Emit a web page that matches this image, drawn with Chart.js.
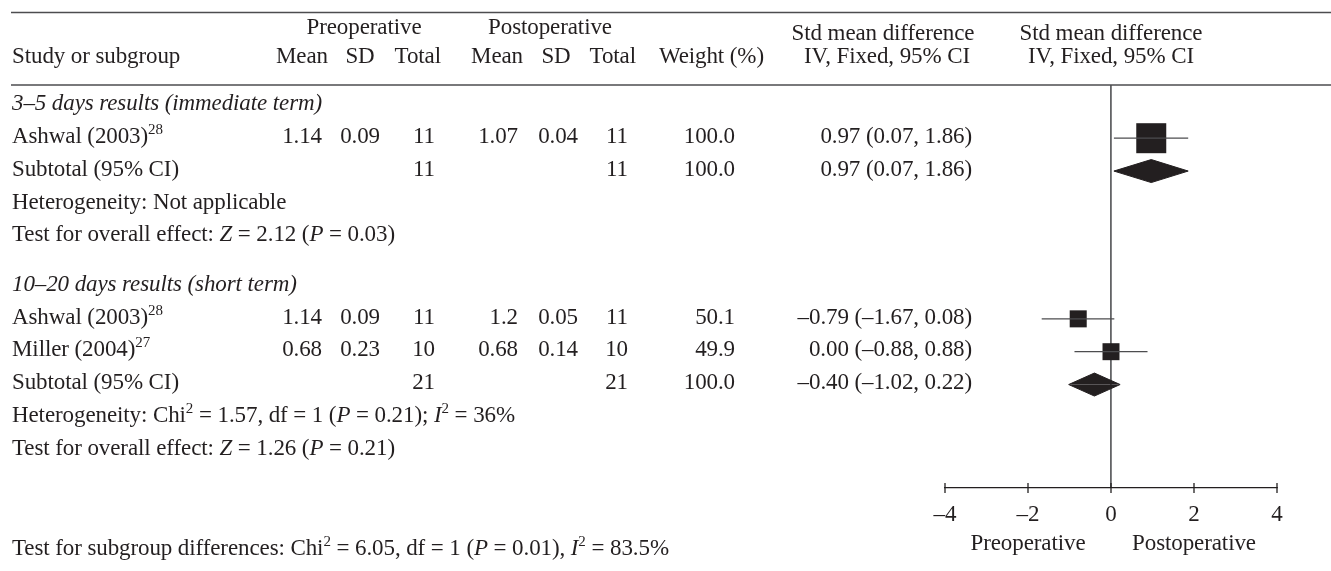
<!DOCTYPE html>
<html>
<head>
<meta charset="utf-8">
<script src="https://cdn.jsdelivr.net/npm/chart.js@4.4.1/dist/chart.umd.min.js"></script>
<style>
  html, body { margin: 0; padding: 0; background: #fff; overflow: hidden; }
  #wrap { position: relative; width: 1331px; height: 571px; }
  #plot { position: absolute; left: 0; top: 0; }
  .t { position: absolute; white-space: nowrap; font: 23px "Liberation Serif", serif; letter-spacing: -0.1px;
       color: #231f20; line-height: 23px; }
  .t sup { font-size: 15px; line-height: 0; vertical-align: baseline; position: relative; top: -9px; letter-spacing: 0; }
  .c { transform: translateX(-50%); }
  .r { transform: translateX(-100%); }
</style>
</head>
<body>
<div id="wrap"><canvas id="plot" width="1331" height="571"></canvas></div>
<script>
// subgroups and studies
const subgroupNames = ['3–5 days results (immediate term)', '10–20 days results (short term)'];
const studyNames = ['Ashwal (2003)', 'Ashwal (2003)', 'Miller (2004)'];
const studyRefs = ['28', '28', '27'];
const studyGroup = [0, 1, 1];

const preMean = [1.14, 1.14, 0.68];
const preSD = [0.09, 0.09, 0.23];
const preTotal = [11, 11, 10];
const postMean = [1.07, 1.2, 0.68];
const postSD = [0.04, 0.05, 0.14];
const postTotal = [11, 11, 10];
const weight = [100.0, 50.1, 49.9];
const smd = [0.97, -0.79, 0.00];
const ciLow = [0.07, -1.67, -0.88];
const ciHigh = [1.86, 0.08, 0.88];

// subgroup totals
const subPreTotal = [11, 21];
const subPostTotal = [11, 21];
const subWeight = [100.0, 100.0];
const subSmd = [0.97, -0.40];
const subLow = [0.07, -1.02];
const subHigh = [1.86, 0.22];
const hetChi2 = [null, 1.57];
const hetDf = [null, 1];
const hetP = [null, 0.21];
const hetI2 = [null, 36];
const overallZ = [2.12, 1.26];
const overallP = [0.03, 0.21];

// test for subgroup differences
const diffChi2 = 6.05, diffDf = 1, diffP = 0.01, diffI2 = 83.5;

const xTicks = [-4, -2, 0, 2, 4];
const sideLabels = ['Preoperative', 'Postoperative'];

const ink = '#231f20';
const fmt = (v, d) => v.toFixed(d).replace(/-/g, '–');

// row layout from the structure
const rows = [];
let r = 0;
subgroupNames.forEach((name, g) => {
  rows.push({ kind: 'heading', g, y: r++ });
  studyNames.forEach((s, i) => { if (studyGroup[i] === g) rows.push({ kind: 'study', i, y: r++ }); });
  rows.push({ kind: 'subtotal', g, y: r++ });
  rows.push({ kind: 'het', g, y: r++ });
  rows.push({ kind: 'test', g, y: r++ });
  r += 0.5;
});

const datasets = [];
const studyRows = rows.filter(o => o.kind === 'study');
studyRows.forEach(o => {
  datasets.push({
    type: 'line',
    data: [{ x: ciLow[o.i], y: o.y }, { x: ciHigh[o.i], y: o.y }],
    borderColor: '#4d4d4f', borderWidth: 1.3, pointRadius: 0, fill: false
  });
});
datasets.push({
  type: 'scatter',
  data: studyRows.map(o => ({ x: smd[o.i], y: o.y })),
  pointStyle: 'rect',
  pointRadius: studyRows.map(o => (4 + 26 * weight[o.i] / 100) / Math.SQRT2),
  pointBackgroundColor: ink, pointBorderWidth: 0
});
const halfH = 0.35;
rows.filter(o => o.kind === 'subtotal').forEach(o => {
  [-halfH, halfH].forEach(h => {
    datasets.push({
      type: 'line',
      data: [{ x: subLow[o.g], y: o.y }, { x: subSmd[o.g], y: o.y + h }, { x: subHigh[o.g], y: o.y }],
      borderColor: ink, borderWidth: 1, backgroundColor: ink, pointRadius: 0, tension: 0,
      fill: { value: o.y }
    });
  });
});

const rulesAndTicks = {
  id: 'rulesAndTicks',
  afterDraw(chart) {
    const { ctx, chartArea: a, scales: { x } } = chart;
    ctx.save();
    ctx.strokeStyle = '#4d4d4f';
    ctx.lineWidth = 1.7;
    [a.top - 72.5, a.top].forEach(yy => {
      ctx.beginPath(); ctx.moveTo(11, yy); ctx.lineTo(chart.width, yy); ctx.stroke();
    });
    ctx.strokeStyle = ink;
    ctx.lineWidth = 1.3;
    x.ticks.forEach(t => {
      const px = x.getPixelForValue(t.value);
      ctx.beginPath(); ctx.moveTo(px, a.bottom - 5); ctx.lineTo(px, a.bottom + 5); ctx.stroke();
    });
    ctx.restore();
  }
};

const chart = new Chart(document.getElementById('plot'), {
  type: 'scatter',
  data: { datasets },
  options: {
    responsive: false,
    animation: false,
    events: [],
    layout: { padding: { left: 945, right: 54, top: 85, bottom: 0 } },
    plugins: { legend: { display: false }, tooltip: { enabled: false } },
    scales: {
      x: {
        type: 'linear', min: xTicks[0], max: xTicks[xTicks.length - 1],
        afterFit: s => { s.height = 83; },
        afterBuildTicks: s => { s.ticks = xTicks.map(v => ({ value: v })); },
        ticks: {
          padding: 13, color: ink,
          font: { family: '"Liberation Serif", serif', size: 23 },
          callback: v => fmt(v, 0)
        },
        grid: {
          drawTicks: false,
          color: c => (c.tick && c.tick.value === 0 ? '#636466' : 'rgba(0,0,0,0)'),
          lineWidth: 1.8
        },
        border: { color: ink, width: 1.3 }
      },
      y: { type: 'linear', reverse: true, min: -0.62, max: 11.65, display: false }
    }
  },
  plugins: [rulesAndTicks]
});

// table text as real text, placed on the chart's own scales
const wrap = document.getElementById('wrap');
const ys = chart.scales.y, xs = chart.scales.x, area = chart.chartArea;
function put(html, x, base, align) {
  const el = document.createElement('div');
  el.className = 't' + (align === 'c' ? ' c' : align === 'r' ? ' r' : '');
  el.innerHTML = html;
  el.style.left = x + 'px';
  el.style.top = (base - 19.3) + 'px';
  wrap.appendChild(el);
}

const LEFT = 12;
// header
const h1 = area.top - 51, h1b = area.top - 45, h2 = area.top - 22;
put('Preoperative', 364, h1, 'c');
put('Postoperative', 550, h1, 'c');
put('Std mean difference', 883, h1b, 'c');
put('Std mean difference', xs.getPixelForValue(0), h1b, 'c');
put('Study or subgroup', LEFT, h2);
put('Mean', 302, h2, 'c');
put('SD', 360, h2, 'c');
put('Total', 441, h2, 'r');
put('Mean', 523, h2, 'r');
put('SD', 556, h2, 'c');
put('Total', 636, h2, 'r');
put('Weight (%)', 764, h2, 'r');
put('IV, Fixed, 95% CI', 887, h2, 'c');
put('IV, Fixed, 95% CI', xs.getPixelForValue(0), h2, 'c');

rows.forEach(o => {
  const b = ys.getPixelForValue(o.y) + 5;
  if (o.kind === 'heading') {
    put('<i>' + subgroupNames[o.g] + '</i>', LEFT, b);
  } else if (o.kind === 'study') {
    const i = o.i;
    put(studyNames[i] + '<sup>' + studyRefs[i] + '</sup>', LEFT, b);
    put(String(preMean[i]), 322, b, 'r');
    put(preSD[i].toFixed(2), 380, b, 'r');
    put(String(preTotal[i]), 435, b, 'r');
    put(String(postMean[i]), 518, b, 'r');
    put(postSD[i].toFixed(2), 578, b, 'r');
    put(String(postTotal[i]), 628, b, 'r');
    put(weight[i].toFixed(1), 735, b, 'r');
    put(fmt(smd[i], 2) + ' (' + fmt(ciLow[i], 2) + ', ' + fmt(ciHigh[i], 2) + ')', 972, b, 'r');
  } else if (o.kind === 'subtotal') {
    const g = o.g;
    put('Subtotal (95% CI)', LEFT, b);
    put(String(subPreTotal[g]), 435, b, 'r');
    put(String(subPostTotal[g]), 628, b, 'r');
    put(subWeight[g].toFixed(1), 735, b, 'r');
    put(fmt(subSmd[g], 2) + ' (' + fmt(subLow[g], 2) + ', ' + fmt(subHigh[g], 2) + ')', 972, b, 'r');
  } else if (o.kind === 'het') {
    const g = o.g;
    const txt = hetChi2[g] === null ? 'Heterogeneity: Not applicable'
      : 'Heterogeneity: Chi<sup>2</sup> = ' + hetChi2[g].toFixed(2) + ', df = ' + hetDf[g] +
        ' (<i>P</i> = ' + hetP[g].toFixed(2) + '); <i>I</i><sup>2</sup> = ' + hetI2[g] + '%';
    put(txt, LEFT, b);
  } else if (o.kind === 'test') {
    const g = o.g;
    put('Test for overall effect: <i>Z</i> = ' + overallZ[g].toFixed(2) + ' (<i>P</i> = ' + overallP[g].toFixed(2) + ')', LEFT, b);
  }
});

// below the axis
put(sideLabels[0], xs.getPixelForValue(-2), area.bottom + 62, 'c');
put(sideLabels[1], xs.getPixelForValue(2), area.bottom + 62, 'c');
put('Test for subgroup differences: Chi<sup>2</sup> = ' + diffChi2.toFixed(2) + ', df = ' + diffDf +
    ' (<i>P</i> = ' + diffP.toFixed(2) + '), <i>I</i><sup>2</sup> = ' + diffI2.toFixed(1) + '%', LEFT, area.bottom + 67);
</script>
</body>
</html>
